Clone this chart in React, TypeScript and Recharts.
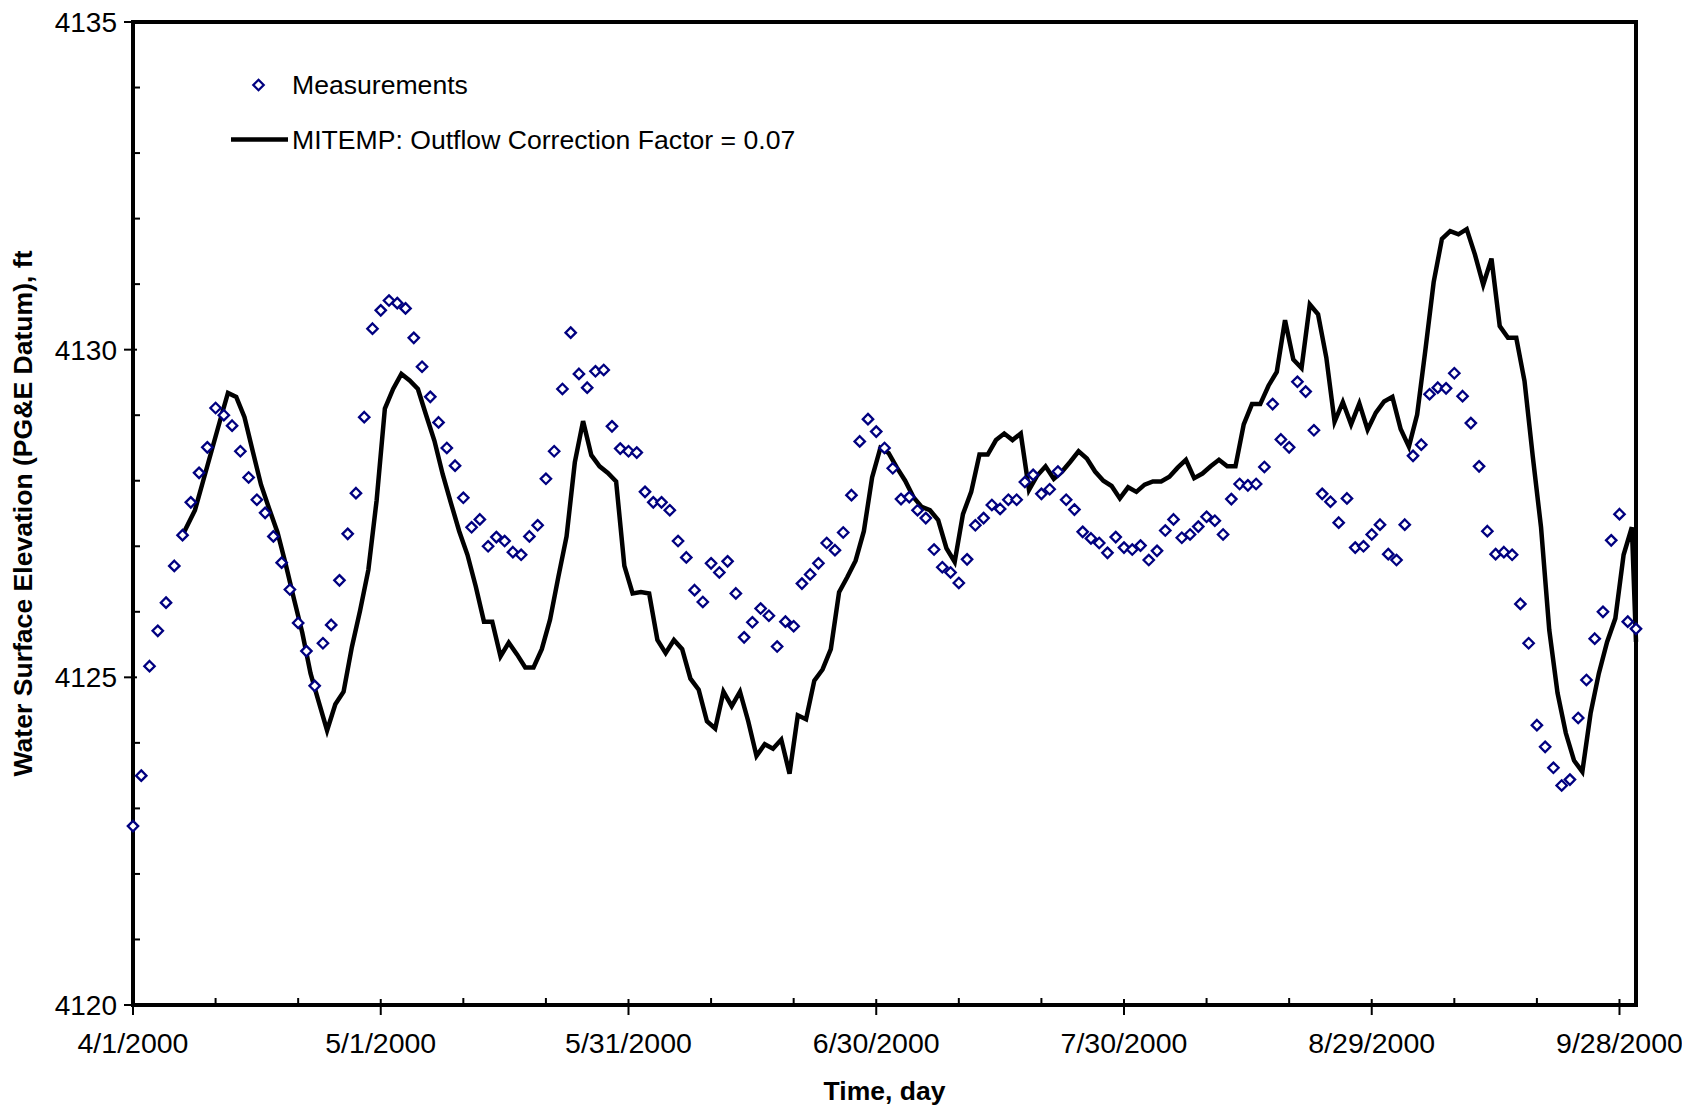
import { ComposedChart, Line, Scatter, XAxis, YAxis, Legend, ReferenceArea, Label } from "recharts";

// Measured water surface elevation, one value per day starting 4/1/2000
const MEASUREMENTS = [
  4122.73, 4123.5, 4125.17, 4125.71, 4126.14, 4126.7, 4127.17, 4127.67, 4128.12, 4128.51,
  4129.11, 4129.0, 4128.84, 4128.45, 4128.05, 4127.71, 4127.51, 4127.15, 4126.75, 4126.34,
  4125.83, 4125.4, 4124.87, 4125.52, 4125.8, 4126.48, 4127.19, 4127.81, 4128.97, 4130.32,
  4130.6, 4130.75, 4130.71, 4130.63, 4130.18, 4129.74, 4129.28, 4128.89, 4128.5, 4128.23,
  4127.74, 4127.29, 4127.41, 4127.0, 4127.14, 4127.08, 4126.91, 4126.87, 4127.15, 4127.32,
  4128.03, 4128.45, 4129.4, 4130.26, 4129.63, 4129.42, 4129.67, 4129.69, 4128.83, 4128.49,
  4128.45, 4128.43, 4127.83, 4127.67, 4127.67, 4127.55, 4127.08, 4126.83, 4126.33, 4126.15,
  4126.74, 4126.6, 4126.77, 4126.28, 4125.61, 4125.84, 4126.05, 4125.94, 4125.47, 4125.85,
  4125.78, 4126.43, 4126.57, 4126.74, 4127.05, 4126.94, 4127.21, 4127.78, 4128.6, 4128.94,
  4128.75, 4128.5, 4128.19, 4127.72, 4127.75, 4127.55, 4127.43, 4126.95, 4126.68, 4126.6,
  4126.44, 4126.8, 4127.32, 4127.43, 4127.63, 4127.57, 4127.71, 4127.71, 4127.98, 4128.09,
  4127.8, 4127.87, 4128.14, 4127.71, 4127.56, 4127.22, 4127.12, 4127.05, 4126.9, 4127.14,
  4126.98, 4126.95, 4127.01, 4126.79, 4126.93, 4127.24, 4127.41, 4127.13, 4127.18, 4127.3,
  4127.45, 4127.39, 4127.18, 4127.72, 4127.95, 4127.93, 4127.95, 4128.21, 4129.17, 4128.63,
  4128.51, 4129.51, 4129.36, 4128.77, 4127.8, 4127.68, 4127.36, 4127.73, 4126.98, 4127.0,
  4127.18, 4127.33, 4126.88, 4126.79, 4127.33, 4128.38, 4128.55, 4129.32, 4129.42, 4129.41,
  4129.64, 4129.29, 4128.88, 4128.22, 4127.23, 4126.88, 4126.91, 4126.87, 4126.12, 4125.52,
  4124.27, 4123.94, 4123.62, 4123.35, 4123.44, 4124.38, 4124.96, 4125.59, 4126.0, 4127.09,
  4127.49, 4125.85, 4125.74
];

// MITEMP output: first point on day 6, then mid-day values, last point at the axis end
const MODEL_FIRST_DAY = 6;
const MODEL_STEP_START = 6.5;
const MODEL_LAST_DAY = 182;
const MODEL = [
  4127.17, 4127.55, 4128.0, 4128.45, 4128.9, 4129.34, 4129.28, 4128.97, 4128.45, 4127.94,
  4127.57, 4127.21, 4126.72, 4126.19, 4125.68, 4125.06, 4124.62, 4124.19, 4124.59, 4124.78,
  4125.46, 4126.02, 4126.64, 4127.7, 4129.1, 4129.4, 4129.63, 4129.53, 4129.4, 4129.0,
  4128.61, 4128.1, 4127.66, 4127.23, 4126.87, 4126.39, 4125.85, 4125.85, 4125.32, 4125.53,
  4125.35, 4125.15, 4125.15, 4125.43, 4125.88, 4126.53, 4127.15, 4128.28, 4128.91, 4128.39,
  4128.22, 4128.12, 4127.99, 4126.7, 4126.28, 4126.3, 4126.28, 4125.57, 4125.37, 4125.57,
  4125.43, 4124.98, 4124.81, 4124.33, 4124.22, 4124.78, 4124.56, 4124.78, 4124.33, 4123.8,
  4123.98, 4123.91, 4124.05, 4123.53, 4124.42, 4124.36, 4124.95, 4125.12, 4125.43, 4126.3,
  4126.53, 4126.78, 4127.23, 4128.05, 4128.5, 4128.42, 4128.2, 4128.0, 4127.75, 4127.6,
  4127.55, 4127.4, 4126.97, 4126.76, 4127.49, 4127.83, 4128.4, 4128.4, 4128.62, 4128.72,
  4128.62, 4128.72, 4127.86, 4128.08, 4128.22, 4128.03, 4128.14, 4128.29, 4128.45, 4128.34,
  4128.14, 4128.0, 4127.92, 4127.73, 4127.9, 4127.83, 4127.94, 4127.99, 4127.99, 4128.06,
  4128.2, 4128.32, 4128.04, 4128.11, 4128.22, 4128.32, 4128.22, 4128.22, 4128.86, 4129.17,
  4129.17, 4129.45, 4129.66, 4130.45, 4129.85, 4129.72, 4130.69, 4130.54, 4129.88, 4128.9,
  4129.2, 4128.86, 4129.18, 4128.78, 4129.04, 4129.21, 4129.28, 4128.79, 4128.52, 4129.01,
  4130.0, 4131.03, 4131.69, 4131.81, 4131.76, 4131.84, 4131.45, 4130.99, 4131.39, 4130.36,
  4130.18, 4130.18, 4129.52, 4128.37, 4127.29, 4125.72, 4124.76, 4124.15, 4123.73, 4123.56,
  4124.45, 4125.06, 4125.54, 4125.9, 4126.87, 4127.29, 4125.54
];

const X_MAJOR = [0, 30, 60, 90, 120, 150, 180];
const X_LABELS = ["4/1/2000", "5/1/2000", "5/31/2000", "6/30/2000", "7/30/2000", "8/29/2000", "9/28/2000"];
const X_TICKS = [0, 10, 20, 30, 40, 50, 60, 70, 80, 90, 100, 110, 120, 130, 140, 150, 160, 170, 180];
const Y_MAJOR = [4120, 4125, 4130, 4135];
const Y_TICKS = [4120, 4121, 4122, 4123, 4124, 4125, 4126, 4127, 4128, 4129, 4130, 4131, 4132, 4133, 4134, 4135];

const FONT = "'Liberation Sans', Arial, Helvetica, sans-serif";
const NAVY = "#000080";

const measData = MEASUREMENTS.map((v, i) => ({ day: i, value: v }));
const modelData = MODEL.map((v, i) => ({
  day: i === 0 ? MODEL_FIRST_DAY : i === MODEL.length - 1 ? MODEL_LAST_DAY : MODEL_STEP_START + i,
  value: v
}));

function Diamond(props: any) {
  const { cx, cy } = props;
  if (cx == null || cy == null) return null;
  const r = 5.2;
  return (
    <polygon
      points={`${cx},${cy - r} ${cx + r},${cy} ${cx},${cy + r} ${cx - r},${cy}`}
      fill="#fff"
      stroke={NAVY}
      strokeWidth={2.3}
    />
  );
}

function XTick(props: any) {
  const { x, y, payload } = props;
  const i = X_MAJOR.indexOf(payload.value);
  if (i < 0) {
    return <line x1={x} x2={x} y1={y} y2={y - 7} stroke="#000" strokeWidth={2} />;
  }
  return (
    <g>
      <line x1={x} x2={x} y1={y - 6} y2={y + 10} stroke="#000" strokeWidth={2} />
      <text x={x} y={y + 48} textAnchor="middle" fontSize={28.5} fontFamily={FONT} fill="#000">
        {X_LABELS[i]}
      </text>
    </g>
  );
}

function YTick(props: any) {
  const { x, y, payload } = props;
  const major = Y_MAJOR.includes(payload.value);
  if (!major) {
    return <line x1={x} x2={x + 7} y1={y} y2={y} stroke="#000" strokeWidth={2} />;
  }
  return (
    <g>
      <line x1={x - 9} x2={x + 4} y1={y} y2={y} stroke="#000" strokeWidth={2} />
      <text x={x - 16} y={y + 10} textAnchor="end" fontSize={28} fontFamily={FONT} fill="#000">
        {payload.value}
      </text>
    </g>
  );
}

function LegendBox() {
  return (
    <svg width={620} height={110} style={{ display: "block" }}>
      <polygon points="38.5,24.8 43.7,30 38.5,35.2 33.3,30" fill="#fff" stroke={NAVY} strokeWidth={2.3} />
      <text x={72} y={39} fontSize={26.6} fontFamily={FONT} fill="#000">Measurements</text>
      <line x1={11} x2={68} y1={84.5} y2={84.5} stroke="#000" strokeWidth={4.5} />
      <text x={72} y={94} fontSize={26.6} fontFamily={FONT} fill="#000">
        MITEMP: Outflow Correction Factor = 0.07
      </text>
    </svg>
  );
}

export default function App() {
  return (
    <div style={{ position: "absolute", left: 0, top: 0, width: 1682, height: 1107, background: "#fff" }}>
      <ComposedChart width={1682} height={1107} margin={{ top: 22, right: 46, bottom: 0, left: 0 }}>
        <XAxis
          type="number"
          dataKey="day"
          domain={[0, 182]}
          ticks={X_TICKS}
          interval={0}
          height={102}
          tickSize={0}
          tickMargin={0}
          axisLine={false}
          tickLine={false}
          tick={<XTick />}
        >
          <Label
            content={(p: any) => {
              const vb = p.viewBox;
              return (
                <text
                  x={vb.x + vb.width / 2}
                  y={vb.y + 95}
                  textAnchor="middle"
                  fontSize={26.5}
                  fontWeight="bold"
                  fontFamily={FONT}
                  fill="#000"
                >
                  Time, day
                </text>
              );
            }}
          />
        </XAxis>
        <YAxis
          type="number"
          dataKey="value"
          domain={[4120, 4135]}
          ticks={Y_TICKS}
          interval={0}
          width={133}
          tickSize={0}
          tickMargin={0}
          axisLine={false}
          tickLine={false}
          tick={<YTick />}
        >
          <Label
            content={(p: any) => {
              const vb = p.viewBox;
              const cx = 32;
              const cy = vb.y + vb.height / 2;
              return (
                <text
                  x={cx}
                  y={cy}
                  transform={`rotate(-90 ${cx} ${cy})`}
                  textAnchor="middle"
                  fontSize={26}
                  fontWeight="bold"
                  fontFamily={FONT}
                  fill="#000"
                  textLength={526}
                  lengthAdjust="spacingAndGlyphs"
                >
                  Water Surface Elevation (PG&amp;E Datum), ft
                </text>
              );
            }}
          />
        </YAxis>
        <ReferenceArea x1={0} x2={182} y1={4120} y2={4135} fill="none" fillOpacity={0} stroke="#000" strokeWidth={4} />
        <Line
          data={modelData}
          dataKey="value"
          name="MITEMP: Outflow Correction Factor = 0.07"
          type="linear"
          stroke="#000"
          strokeWidth={4.5}
          dot={false}
          activeDot={false}
          isAnimationActive={false}
        />
        <Scatter
          data={measData}
          dataKey="value"
          name="Measurements"
          shape={<Diamond />}
          isAnimationActive={false}
        />
        <Legend
          layout="vertical"
          align="center"
          verticalAlign="middle"
          wrapperStyle={{ left: 220, top: 55, width: 620, height: 110 }}
          content={() => <LegendBox />}
        />
      </ComposedChart>
    </div>
  );
}
